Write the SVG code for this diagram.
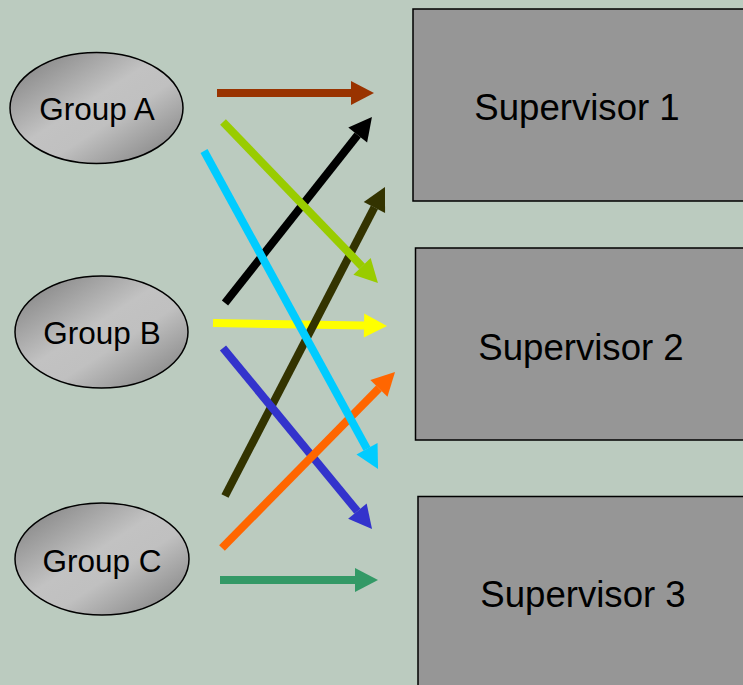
<svg xmlns="http://www.w3.org/2000/svg" width="743" height="685" viewBox="0 0 743 685">
<defs>
<style>
.box{fill:#969696;stroke:#000;stroke-width:1.5}
.ell{fill:url(#eg);stroke:#000;stroke-width:1.5}
.t{font-family:"Liberation Sans",Arial,sans-serif;fill:#000;text-anchor:middle}
.gt{font-size:31.5px}
.st{font-size:36.6px}
.c{stroke-width:8;fill:none}
</style>
<linearGradient id="eg" x1="0" y1="0" x2="1" y2="1">
<stop offset="0" stop-color="#7a7a7a"/>
<stop offset="0.45" stop-color="#c2c2c2"/>
<stop offset="0.6" stop-color="#c0c0c0"/>
<stop offset="1" stop-color="#7a7a7a"/>
</linearGradient>
<marker id="m1" markerUnits="userSpaceOnUse" markerWidth="24" markerHeight="26" refX="0" refY="12" orient="auto" overflow="visible"><path d="M0,0 L23,12 L0,24 z" fill="#993300"/></marker>
<marker id="m2" markerUnits="userSpaceOnUse" markerWidth="24" markerHeight="26" refX="0" refY="12" orient="auto" overflow="visible"><path d="M0,0 L23,12 L0,24 z" fill="#000000"/></marker>
<marker id="m3" markerUnits="userSpaceOnUse" markerWidth="24" markerHeight="26" refX="0" refY="12" orient="auto" overflow="visible"><path d="M0,0 L23,12 L0,24 z" fill="#99cc00"/></marker>
<marker id="m4" markerUnits="userSpaceOnUse" markerWidth="24" markerHeight="26" refX="0" refY="12" orient="auto" overflow="visible"><path d="M0,0 L23,12 L0,24 z" fill="#333300"/></marker>
<marker id="m5" markerUnits="userSpaceOnUse" markerWidth="24" markerHeight="26" refX="0" refY="12" orient="auto" overflow="visible"><path d="M0,0 L23,12 L0,24 z" fill="#00ccff"/></marker>
<marker id="m6" markerUnits="userSpaceOnUse" markerWidth="24" markerHeight="26" refX="0" refY="12" orient="auto" overflow="visible"><path d="M0,0 L23,12 L0,24 z" fill="#ffff00"/></marker>
<marker id="m7" markerUnits="userSpaceOnUse" markerWidth="24" markerHeight="26" refX="0" refY="12" orient="auto" overflow="visible"><path d="M0,0 L23,12 L0,24 z" fill="#3333cc"/></marker>
<marker id="m8" markerUnits="userSpaceOnUse" markerWidth="24" markerHeight="26" refX="0" refY="12" orient="auto" overflow="visible"><path d="M0,0 L23,12 L0,24 z" fill="#ff6600"/></marker>
<marker id="m9" markerUnits="userSpaceOnUse" markerWidth="24" markerHeight="26" refX="0" refY="12" orient="auto" overflow="visible"><path d="M0,0 L23,12 L0,24 z" fill="#339966"/></marker>
</defs>
<rect x="0" y="0" width="743" height="685" fill="#bbcbbf"/>
<g id="supervisor1"><rect class="box" x="413" y="9" width="340" height="192"/><text class="t st" x="577" y="120">Supervisor 1</text></g>
<g id="supervisor2"><rect class="box" x="415.5" y="248" width="340" height="192"/><text class="t st" x="581" y="360">Supervisor 2</text></g>
<g id="supervisor3"><rect class="box" x="418" y="496.5" width="340" height="200"/><text class="t st" x="583" y="607">Supervisor 3</text></g>
<g id="groupA"><ellipse class="ell" cx="96.5" cy="108" rx="86.5" ry="55.5"/><text class="t gt" x="97" y="120">Group A</text></g>
<g id="groupB"><ellipse class="ell" cx="101.5" cy="332" rx="86.5" ry="56"/><text class="t gt" x="102" y="344">Group B</text></g>
<g id="groupC"><ellipse class="ell" cx="102" cy="559" rx="87" ry="56"/><text class="t gt" x="102" y="572">Group C</text></g>
<g id="connectors">
<line class="c" x1="217" y1="93" x2="351" y2="93" stroke="#993300" marker-end="url(#m1)"/>
<line class="c" x1="225" y1="303" x2="357.7" y2="135" stroke="#000000" marker-end="url(#m2)"/>
<line class="c" x1="213" y1="323" x2="364" y2="325.6" stroke="#ffff00" marker-end="url(#m6)"/>
<line class="c" x1="225" y1="496" x2="374.4" y2="207.4" stroke="#333300" marker-end="url(#m4)"/>
<line class="c" x1="223" y1="122" x2="362" y2="266.4" stroke="#99cc00" marker-end="url(#m3)"/>
<line class="c" x1="223" y1="348" x2="357.4" y2="511.2" stroke="#3333cc" marker-end="url(#m7)"/>
<line class="c" x1="222" y1="548" x2="378.9" y2="388.4" stroke="#ff6600" marker-end="url(#m8)"/>
<line class="c" x1="204" y1="151" x2="367" y2="448.8" stroke="#00ccff" marker-end="url(#m5)"/>
<line class="c" x1="220" y1="580" x2="355" y2="580" stroke="#339966" marker-end="url(#m9)"/>
</g>
</svg>
